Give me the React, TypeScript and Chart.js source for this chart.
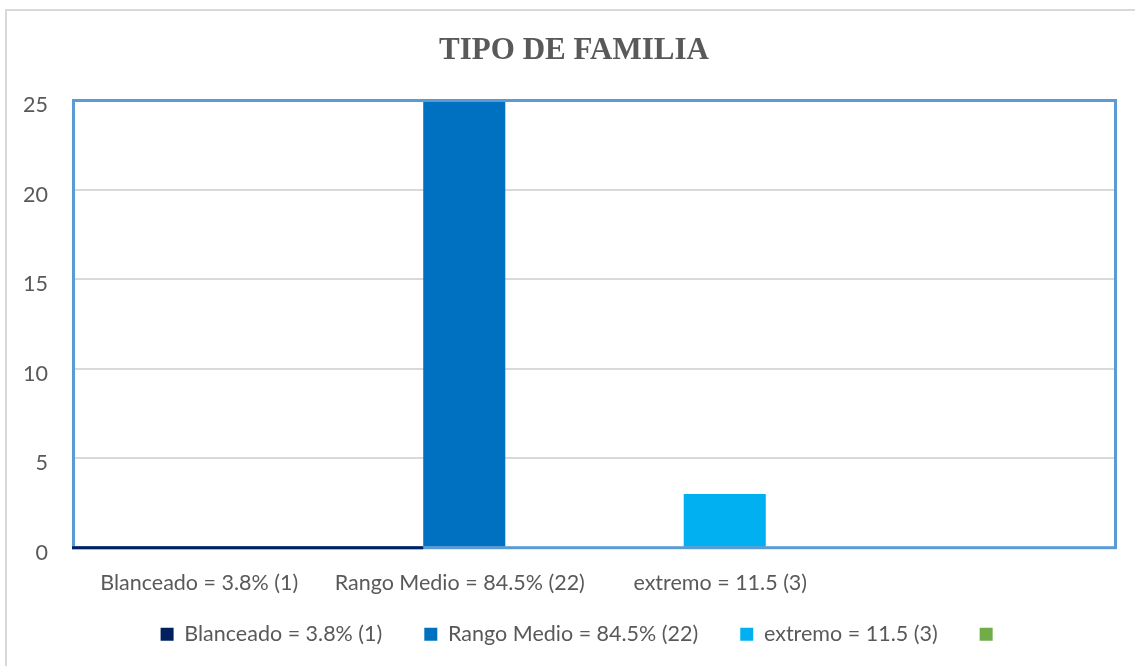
import React, { useEffect, useRef } from "react";
import { Chart, registerables } from "chart.js";

Chart.register(...registerables);

const categories = ["Blanceado = 3.8% (1)", "Rango Medio = 84.5% (22)", "extremo = 11.5 (3)", ""];
const seriesNames = ["Blanceado = 3.8% (1)", "Rango Medio = 84.5% (22)", "extremo = 11.5 (3)", ""];
const blanceadoValues = [0, null, null, null];
const rangoMedioValues = [null, 25, null, null];
const extremoValues = [null, null, 3, null];
const emptyValues = [null, null, null, null];
const seriesColors = ["#002060", "#0070c0", "#00b0f0", "#70ad47"];
const yTicks = [0, 5, 10, 15, 20, 25];

const FONT = "Lato";
const FS = 21.5;
const TEXT = "#595959";
const LEGEND_LIFT = 18.25;
const LEGEND_SHIFT = 8;

const framePlugin = {
  id: "frame",
  afterLayout(chart: any) {
    const lg = chart.legend;
    if (lg) {
      lg.top -= LEGEND_LIFT;
      lg.bottom -= LEGEND_LIFT;
      lg.left += LEGEND_SHIFT;
      lg.right += LEGEND_SHIFT;
    }
  },
  afterDatasetsDraw(chart: any) {
    const { ctx, chartArea } = chart;
    const { left, top, right, bottom } = chartArea;
    ctx.save();
    ctx.strokeStyle = "#5b9bd5";
    ctx.lineWidth = 3;
    ctx.strokeRect(left, top, right - left, bottom - top);
    // zero-height first series drawn along the baseline up to the next bar
    const meta = chart.getDatasetMeta(1);
    const bar = meta.data[1];
    if (bar) {
      const p = bar.getProps(["x", "width"], true);
      const endX = p.x - p.width / 2;
      const y0 = chart.scales.y.getPixelForValue(0);
      ctx.strokeStyle = chart.data.datasets[0].backgroundColor;
      ctx.beginPath();
      ctx.moveTo(left - 1.5, y0);
      ctx.lineTo(endX, y0);
      ctx.stroke();
    }
    ctx.restore();
  },
};

export default function App() {
  const ref = useRef<HTMLCanvasElement | null>(null);

  useEffect(() => {
    if (!ref.current) return;
    const values = [blanceadoValues, rangoMedioValues, extremoValues, emptyValues];
    const chart = new Chart(ref.current, {
      type: "bar",
      data: {
        labels: categories,
        datasets: values.map((v, i) => ({
          label: seriesNames[i],
          data: v,
          backgroundColor: seriesColors[i],
          borderWidth: 0,
          grouped: false,
          barPercentage: 0.315,
          categoryPercentage: 1,
          yAxisID: "y",
        })),
      },
      options: {
        responsive: false,
        animation: false,
        layout: { padding: { left: 0, right: 0, top: 0, bottom: 37.8 } },
        plugins: {
          title: {
            display: true,
            text: "TIPO DE FAMILIA",
            color: TEXT,
            font: { family: "Liberation Serif", size: 31, weight: "bold" },
            padding: { top: 21.4, bottom: 30.9 },
          },
          legend: {
            position: "bottom",
            labels: {
              boxWidth: 13,
              boxHeight: 13,
              padding: 42,
              color: TEXT,
              font: { family: FONT, size: FS },
            },
          },
          tooltip: { enabled: false },
        },
        scales: {
          x: {
            grid: { display: false, drawTicks: false },
            border: { display: false },
            ticks: {
              color: TEXT,
              font: { family: FONT, size: FS },
              padding: 22.4,
              labelOffset: -4.5,
              autoSkip: false,
              maxRotation: 0,
              minRotation: 0,
            },
            afterFit: (s: any) => {
              s.height = 52;
            },
          },
          y: {
            position: "left",
            min: 0,
            max: 25,
            afterBuildTicks: (s: any) => {
              s.ticks = yTicks.map((v) => ({ value: v }));
            },
            grid: { color: "#d9d9d9", lineWidth: 2, drawTicks: false },
            border: { display: false },
            ticks: {
              color: TEXT,
              font: { family: FONT, size: FS },
              padding: 25.5,
              labelOffset: 5,
            },
            afterFit: (s: any) => {
              s.width = 66.5;
            },
          },
          yRight: {
            type: "linear",
            position: "right",
            display: true,
            grid: { display: false, drawTicks: false },
            border: { display: false },
            ticks: { display: false },
            afterFit: (s: any) => {
              s.width = 25.5;
            },
          },
        },
      },
      plugins: [framePlugin],
    });
    return () => chart.destroy();
  }, []);

  return (
    <div style={{ position: "fixed", inset: 0, overflow: "hidden", background: "#fff" }}>
      <div
        style={{
          position: "absolute",
          left: 5,
          top: 9,
          width: 1145,
          height: 720,
          border: "2px solid #d9d9d9",
          boxSizing: "border-box",
        }}
      >
        <canvas
          ref={ref}
          width={1134}
          height={700}
          style={{ position: "absolute", left: 0, top: 0, width: 1134, height: 700 }}
        />
      </div>
    </div>
  );
}
